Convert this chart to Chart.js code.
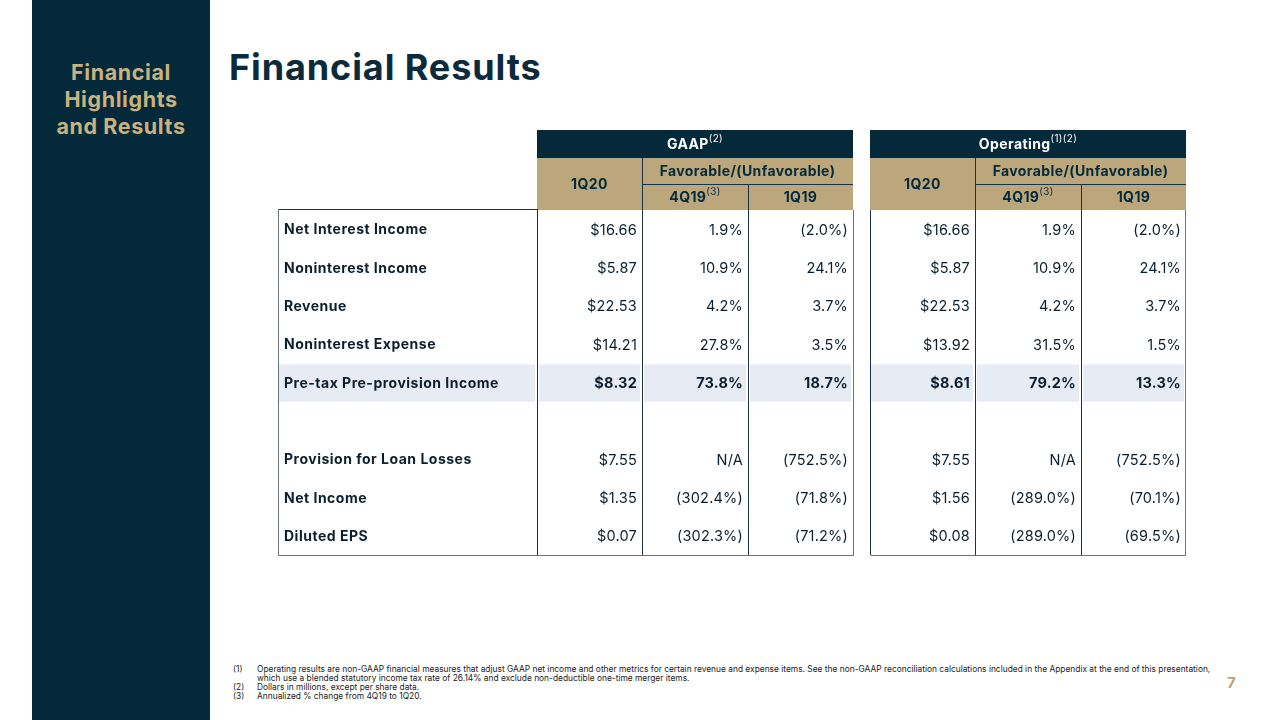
<!DOCTYPE html>
<html>
<head>
<meta charset="utf-8">
<script src="https://cdn.jsdelivr.net/npm/chart.js@4.4.1/dist/chart.umd.min.js"></script>
<style>
  html, body { margin:0; padding:0; background:#fff; }
  body { width:1280px; height:720px; position:relative; overflow:hidden; font-family: Inter, "Open Sans", sans-serif; }
  #side { position:absolute; left:32px; top:0; width:178px; height:720px; background:#04293a; }
  #side div { position:absolute; top:59px; width:178px; text-align:center; color:#c8b27f; font-weight:700; font-size:21.5px; line-height:27px; letter-spacing:0.6px; }
  #title { position:absolute; left:229px; top:45px; font-size:36px; font-weight:700; color:#0b2a3b; letter-spacing:0.9px; }
  #tbl { position:absolute; left:268px; top:120px; }
  .fn { position:absolute; font-size:8.4px; color:#222; white-space:nowrap; line-height:9px; }
  #page { position:absolute; left:1227px; top:673px; font-size:15px; font-weight:700; color:#b9a371; }
</style>
</head>
<body>
<div id="side"><div>Financial<br>Highlights<br>and Results</div></div>
<div id="title">Financial Results</div>
<canvas id="tbl" width="930" height="442"></canvas>
<div class="fn" style="left:233px;top:665px">(1)</div>
<div class="fn" style="left:257px;top:665px">Operating results are non-GAAP financial measures that adjust GAAP net income and other metrics for certain revenue and expense items. See the non-GAAP reconciliation calculations included in the Appendix at the end of this presentation,</div>
<div class="fn" style="left:257px;top:674px">which use a blended statutory income tax rate of 26.14% and exclude non-deductible one-time merger items.</div>
<div class="fn" style="left:233px;top:683px">(2)</div>
<div class="fn" style="left:257px;top:683px">Dollars in millions, except per share data.</div>
<div class="fn" style="left:233px;top:692px">(3)</div>
<div class="fn" style="left:257px;top:692px">Annualized % change from 4Q19 to 1Q20.</div>
<div id="page">7</div>
<script>
// table data
const rowLabels = ['Net Interest Income', 'Noninterest Income', 'Revenue', 'Noninterest Expense',
  'Pre-tax Pre-provision Income', '', 'Provision for Loan Losses', 'Net Income', 'Diluted EPS'];
const gaap1Q20   = ['$16.66', '$5.87', '$22.53', '$14.21', '$8.32', '', '$7.55', '$1.35', '$0.07'];
const gaapVs4Q19 = ['1.9%', '10.9%', '4.2%', '27.8%', '73.8%', '', 'N/A', '(302.4%)', '(302.3%)'];
const gaapVs1Q19 = ['(2.0%)', '24.1%', '3.7%', '3.5%', '18.7%', '', '(752.5%)', '(71.8%)', '(71.2%)'];
const op1Q20     = ['$16.66', '$5.87', '$22.53', '$13.92', '$8.61', '', '$7.55', '$1.56', '$0.08'];
const opVs4Q19   = ['1.9%', '10.9%', '4.2%', '31.5%', '79.2%', '', 'N/A', '(289.0%)', '(289.0%)'];
const opVs1Q19   = ['(2.0%)', '24.1%', '3.7%', '1.5%', '13.3%', '', '(752.5%)', '(70.1%)', '(69.5%)'];
const highlightRow = 'Pre-tax Pre-provision Income';
const groups = [{ name:'GAAP', sup:'(2)' }, { name:'Operating', sup:'(1)(2)' }];
const subHeads = ['1Q20', 'Favorable/(Unfavorable)', '4Q19', '1Q19'];

// column widths in units of one data column (label, 3 gaap, gap, 3 operating)
const colUnits = [2.455, 1, 1, 1, 0.152, 1, 1, 1];
const edges = colUnits.reduce((a, w) => { a.push(a[a.length-1] + w); return a; }, [0]);

const NAVY = '#04293a', GOLD = '#bba77b', HILITE = '#e7ebf3', INNER = '#1c3345', OUTER = '#6b7178';
const FONT = 'Inter, "Open Sans", sans-serif';

function textSup(ctx, main, sup, cx, cy, size, color) {
  ctx.letterSpacing = '0.4px';
  ctx.font = '700 ' + size + 'px ' + FONT;
  const w1 = ctx.measureText(main).width;
  ctx.font = '400 ' + (size*0.7) + 'px ' + FONT;
  const w2 = sup ? ctx.measureText(sup).width : 0;
  const x0 = cx - (w1 + w2)/2;
  ctx.fillStyle = color;
  ctx.textAlign = 'left'; ctx.textBaseline = 'middle';
  ctx.font = '700 ' + size + 'px ' + FONT;
  ctx.fillText(main, x0, cy);
  if (sup) {
    ctx.font = '400 ' + (size*0.7) + 'px ' + FONT;
    ctx.fillText(sup, x0 + w1, cy - size*0.45);
  }
  ctx.letterSpacing = '0px';
}

const tablePlugin = {
  id: 'table',
  afterDraw(chart) {
    const { ctx, chartArea: ca, scales: { x, y } } = chart;
    const px = edges.map(e => Math.round(x.getPixelForValue(e)));
    const rowH = y.getPixelForValue(1) - y.getPixelForValue(0);
    const top = ca.top, bottom = ca.bottom;
    const hTop = top - 80, hMid = top - 52, hSub = top - 26;
    ctx.save();

    // highlighted row
    const hi = rowLabels.indexOf(highlightRow);
    const hy = y.getPixelForValue(hi) - rowH/2;
    ctx.fillStyle = HILITE;
    [0,1,2,3,5,6,7].forEach(c => {
      const l = px[c] + ((c === 0 || c === 5) ? 1 : 2);
      const r = px[c+1] - 2;
      ctx.fillRect(l, hy + 1, r - l, rowH - 1);
    });

    // headers for each group
    const starts = [1, 5];
    starts.forEach((s, g) => {
      const l = px[s], r = px[s+3];
      ctx.fillStyle = NAVY;
      ctx.fillRect(l, hTop, r - l, hMid - hTop);
      ctx.fillStyle = GOLD;
      ctx.fillRect(l, hMid, r - l, top - hMid);
      textSup(ctx, groups[g].name, groups[g].sup, (l + r)/2, (hTop + hMid)/2 + 1, 14, '#fff');
      textSup(ctx, subHeads[0], '', (px[s] + px[s+1])/2, (hMid + top)/2 + 1, 14, NAVY);
      textSup(ctx, subHeads[1], '', (px[s+1] + r)/2, (hMid + hSub)/2 + 1, 14, NAVY);
      textSup(ctx, subHeads[2], '(3)', (px[s+1] + px[s+2])/2, (hSub + top)/2 + 1, 14, NAVY);
      textSup(ctx, subHeads[3], '', (px[s+2] + r)/2, (hSub + top)/2 + 1, 14, NAVY);
      // header grid lines
      ctx.strokeStyle = INNER; ctx.lineWidth = 1;
      ctx.beginPath();
      ctx.moveTo(px[s+1] + 0.5, hMid); ctx.lineTo(px[s+1] + 0.5, top);
      ctx.moveTo(px[s+2] + 0.5, hSub); ctx.lineTo(px[s+2] + 0.5, top);
      ctx.moveTo(px[s+1], hSub + 0.5); ctx.lineTo(r, hSub + 0.5);
      ctx.stroke();
      // body inner verticals
      ctx.beginPath();
      ctx.moveTo(px[s+1] + 0.5, top); ctx.lineTo(px[s+1] + 0.5, bottom);
      ctx.moveTo(px[s+2] + 0.5, top); ctx.lineTo(px[s+2] + 0.5, bottom);
      ctx.stroke();
    });

    // label column & first column separators
    ctx.strokeStyle = INNER;
    ctx.beginPath();
    ctx.moveTo(px[1] + 0.5, top - 1); ctx.lineTo(px[1] + 0.5, bottom);
    ctx.moveTo(px[0], top - 0.5); ctx.lineTo(px[1], top - 0.5);
    ctx.moveTo(px[5] + 0.5, top); ctx.lineTo(px[5] + 0.5, bottom);
    ctx.stroke();

    // outer borders
    ctx.strokeStyle = OUTER;
    ctx.beginPath();
    ctx.moveTo(px[0] + 0.5, top - 1); ctx.lineTo(px[0] + 0.5, bottom + 0.5); ctx.lineTo(px[4] + 0.5, bottom + 0.5); ctx.lineTo(px[4] + 0.5, top);
    ctx.moveTo(px[5] + 0.5, bottom + 0.5); ctx.lineTo(px[8] - 0.5, bottom + 0.5); ctx.lineTo(px[8] - 0.5, top);
    ctx.stroke();

    // body text
    const cols = [gaap1Q20, gaapVs4Q19, gaapVs1Q19, null, op1Q20, opVs4Q19, opVs1Q19];
    rowLabels.forEach((lab, i) => {
      const cy = y.getPixelForValue(i) + 1;
      const bold = lab === highlightRow;
      ctx.textBaseline = 'middle';
      ctx.fillStyle = '#0b1f2e';
      ctx.textAlign = 'left';
      ctx.letterSpacing = '0.5px';
      ctx.font = '700 14px ' + FONT;
      ctx.fillText(lab, px[0] + 6, cy);
      ctx.textAlign = 'right';
      ctx.letterSpacing = '0.2px';
      ctx.font = (bold ? '700 ' : '400 ') + '14.5px ' + FONT;
      cols.forEach((arr, c) => {
        if (!arr) return;
        ctx.fillText(arr[i], px[c+2] - 5, cy);
      });
    });
    ctx.restore();
  }
};

new Chart(document.getElementById('tbl'), {
  type: 'bar',
  data: { labels: rowLabels, datasets: [{ data: rowLabels.map(() => null) }] },
  options: {
    indexAxis: 'y',
    responsive: false,
    animation: false,
    devicePixelRatio: 1,
    layout: { padding: { left: 10, right: 12, top: 90, bottom: 7 } },
    plugins: { legend: { display: false }, tooltip: { enabled: false } },
    scales: {
      x: { type: 'linear', min: 0, max: edges[edges.length-1], display: false },
      y: { type: 'category', offset: true, display: false }
    }
  },
  plugins: [tablePlugin]
});
</script>
</body>
</html>
